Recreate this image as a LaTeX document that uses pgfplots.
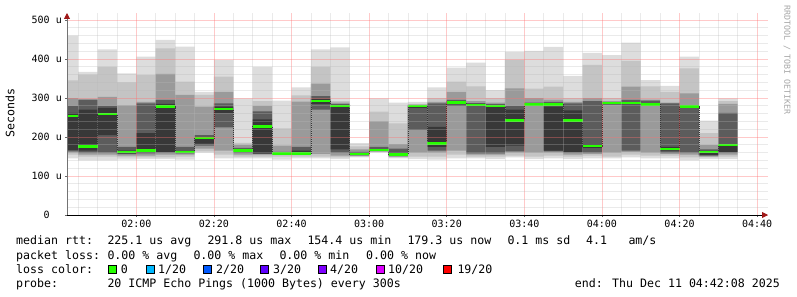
\documentclass[border=0pt]{standalone}
\usepackage{pgfplots}
\pgfplotsset{compat=1.18}
\usepackage{pgfplotstable}
\usepgfplotslibrary{fillbetween}
\usetikzlibrary{arrows.meta}
\usepackage{fontspec}
\setmainfont{DejaVu Sans Mono}
\definecolor{lone}{HTML}{DDDDDD}
\definecolor{ltwo}{HTML}{C4C4C4}
\definecolor{lthree}{HTML}{9A9A9A}
\definecolor{lfour}{HTML}{5C5C5C}
\definecolor{lfive}{HTML}{383838}
\definecolor{medc}{HTML}{26FF00}
\definecolor{lossA}{HTML}{26FF00}
\definecolor{lossB}{HTML}{00B8FF}
\definecolor{lossC}{HTML}{0059FF}
\definecolor{lossD}{HTML}{5E00FF}
\definecolor{lossE}{HTML}{7E00FF}
\definecolor{lossF}{HTML}{DD00FF}
\definecolor{lossG}{HTML}{FF0000}
\definecolor{arrowred}{HTML}{A01818}
\definecolor{mgrid}{HTML}{FF7070}
\definecolor{ngrid}{HTML}{B8B8B8}
\newcommand\legfont{\fontsize{11.6bp}{14bp}\selectfont}
\newcommand\tickfont{\fontsize{10bp}{12bp}\selectfont}

% t = bar start (minutes after midnight); mn/mx = min/max ping;
% a,b,c,d = nested smoke bands (outer to inner); med = median rtt (microseconds)
\pgfplotstableread{
t        mn  mx  alo ahi blo bhi clo chi dlo dhi med
102.1333 145 460 155 345 160 300 163 280 167 262 254
105      140 367 150 360 155 298 160 295 165 270 175
110      140 425 150 380 155 303 160 280 205 275 259
115      142 363 148 340 152 281 156 175 158 165 162
120      143 406 148 359 152 290 158 286 163 210 166
125      143 449 148 427 155 362 160 295 162 285 278
130      142 432 150 342 155 308 158 175 162 162 162
135      160 316 163 308 170 278 178 205 183 196 197
140      145 397 155 355 165 316 225 286 262 278 272
145      145 299 150 185 155 180 160 172 162 168 165
150      145 380 150 292 155 280 157 266 158 245 227
155      142 293 150 222 155 178 157 162 157 159 158
160      145 327 150 307 155 291 158 175 158 165 157
165      145 425 150 380 157 337 270 305 285 298 292
170      143 430 148 292 152 288 160 284 168 278 280
175      148 184 150 176 152 168 153 162 154 158 156
180      160 299 162 265 163 240 164 175 165 168 167
185      145 288 148 235 150 182 151 170 152 160 155
190      143 290 150 285 160 283 218 282 275 281 280
195      142 327 150 300 160 290 165 286 175 226 183
200      145 378 155 342 165 316 280 295 284 292 288
205      145 391 150 330 155 292 158 287 280 285 282
210      143 320 150 300 155 288 158 284 175 278 280
215      148 418 152 397 160 325 163 280 178 270 243
220      143 421 150 324 160 300 281 288 282 286 284
225      145 431 152 329 160 296 163 290 165 278 283
230      143 357 150 300 155 290 160 286 162 268 242
235      145 416 152 385 157 300 160 292 172 182 177
240      145 410 150 300 160 292 283 289 284 288 287
245      148 442 155 395 162 329 165 295 284 288 287
250      145 346 152 330 160 296 281 293 282 287 284
255      145 331 152 316 157 288 160 286 165 175 169
260      140 406 148 376 155 312 160 280 276 280 278
265      143 242 148 210 150 180 152 168 154 160 162
270      143 299 150 292 155 285 160 262 162 182 179
275      143 299 150 292 155 285 160 262 162 182 179
}\smoke

\begin{document}
\begin{tikzpicture}
\begin{axis}[
  at={(67bp,82bp)}, anchor=south west,
  scale only axis, width=701bp, height=202bp,
  xmin=102.1333, xmax=282.8, ymin=0, ymax=518,
  axis on top,
  axis lines*=left,
  x axis line style={black, line width=0.9bp, -{Triangle[length=6bp,width=6bp,color=arrowred]}},
  y axis line style={black!55, line width=0.9bp, -{Triangle[length=6bp,width=6bp,color=arrowred]}},
  xtick={120,140,...,280},
  xticklabels={02:00,02:20,02:40,03:00,03:20,03:40,04:00,04:20,04:40},
  minor xtick={105,110,115,125,130,135,145,150,155,165,170,175,185,190,195,205,210,215,225,230,235,245,250,255,265,270,275},
  ytick={0,100,...,500},
  yticklabels={0\hphantom{~u},100~u,200~u,300~u,400~u,500~u},
  minor ytick={20,40,60,80,120,140,160,180,220,240,260,280,320,340,360,380,420,440,460,480},
  grid=both,
  major grid style={draw=mgrid, line width=0.8bp, opacity=0.38},
  minor grid style={draw=ngrid, line width=0.8bp, opacity=0.3},
  tick align=outside, major tick length=2bp, minor tick length=0bp,
  tick style={black!60, line width=0.6bp, opacity=1},
  xticklabel style={font=\tickfont, anchor=north, inner sep=0pt, yshift=-3bp},
  yticklabel style={font=\tickfont, anchor=east, inner sep=0pt, xshift=-3bp},
]
% smoke bands
\addplot[draw=none, const plot mark left, name path=mn] table[x=t,y=mn]{\smoke};
\addplot[draw=none, const plot mark left, name path=mx] table[x=t,y=mx]{\smoke};
\addplot[fill=lone, draw=none] fill between[of=mn and mx];
\addplot[draw=none, const plot mark left, name path=alo] table[x=t,y=alo]{\smoke};
\addplot[draw=none, const plot mark left, name path=ahi] table[x=t,y=ahi]{\smoke};
\addplot[fill=ltwo, draw=none] fill between[of=alo and ahi];
\addplot[draw=none, const plot mark left, name path=blo] table[x=t,y=blo]{\smoke};
\addplot[draw=none, const plot mark left, name path=bhi] table[x=t,y=bhi]{\smoke};
\addplot[fill=lthree, draw=none] fill between[of=blo and bhi];
\addplot[draw=none, const plot mark left, name path=clo] table[x=t,y=clo]{\smoke};
\addplot[draw=none, const plot mark left, name path=chi] table[x=t,y=chi]{\smoke};
\addplot[fill=lfour, draw=none] fill between[of=clo and chi];
\addplot[draw=none, const plot mark left, name path=dlo] table[x=t,y=dlo]{\smoke};
\addplot[draw=none, const plot mark left, name path=dhi] table[x=t,y=dhi]{\smoke};
\addplot[fill=lfive, draw=none] fill between[of=dlo and dhi];
% median
\addplot[black, line width=0.8bp, dash pattern=on 1bp off 1bp, const plot mark left] table[x=t,y=med]{\smoke};
\addplot[medc, line width=2.6bp, jump mark left] table[x=t,y=med]{\smoke};
\end{axis}

\node[rotate=90, font=\legfont, inner sep=0pt] at (10bp,184bp) {Seconds};
\node[rotate=-90, font=\fontsize{8.3bp}{9bp}\selectfont, text=black!35, inner sep=0pt] at (787bp,237bp) {RRDTOOL / TOBI OETIKER};

\begin{scope}[every node/.style={anchor=base west, inner sep=0pt, font=\legfont}]
\node at (16bp,52bp) {median rtt:};
\node at (107.3bp,52bp) {225.1 us avg};
\node at (207.3bp,52bp) {291.8 us max};
\node at (307.3bp,52bp) {154.4 us min};
\node at (407.3bp,52bp) {179.3 us now};
\node at (507.3bp,52bp) {0.1 ms sd};
\node at (586bp,52bp) {4.1};
\node at (628.3bp,52bp) {am/s};

\node at (16bp,38bp) {packet loss:};
\node at (107.3bp,38bp) {0.00 \% avg};
\node at (193.3bp,38bp) {0.00 \% max};
\node at (279.3bp,38bp) {0.00 \% min};
\node at (366bp,38bp) {0.00 \% now};

\node at (16bp,24bp) {loss color:};
\node at (120.7bp,24bp) {0};
\node at (158bp,24bp) {1/20};
\node at (216bp,24bp) {2/20};
\node at (273bp,24bp) {3/20};
\node at (330bp,24bp) {4/20};
\node at (388bp,24bp) {10/20};
\node at (457.3bp,24bp) {19/20};

\node at (16bp,10bp) {probe:};
\node at (107.3bp,10bp) {20 ICMP Echo Pings (1000 Bytes) every 300s};
\node[anchor=base east] at (780bp,10bp) {end: Thu Dec 11 04:42:08 2025};
\end{scope}
\begin{scope}[draw=black, line width=0.7bp]
\filldraw[fill=lossA] (108bp,24bp) rectangle (116bp,32bp);
\filldraw[fill=lossB] (146bp,24bp) rectangle (154bp,32bp);
\filldraw[fill=lossC] (203bp,24bp) rectangle (211bp,32bp);
\filldraw[fill=lossD] (260bp,24bp) rectangle (268bp,32bp);
\filldraw[fill=lossE] (318bp,24bp) rectangle (326bp,32bp);
\filldraw[fill=lossF] (376bp,24bp) rectangle (384bp,32bp);
\filldraw[fill=lossG] (443bp,24bp) rectangle (451bp,32bp);
\end{scope}
\path (0,0) rectangle (797bp,297bp);
\end{tikzpicture}
\end{document}
